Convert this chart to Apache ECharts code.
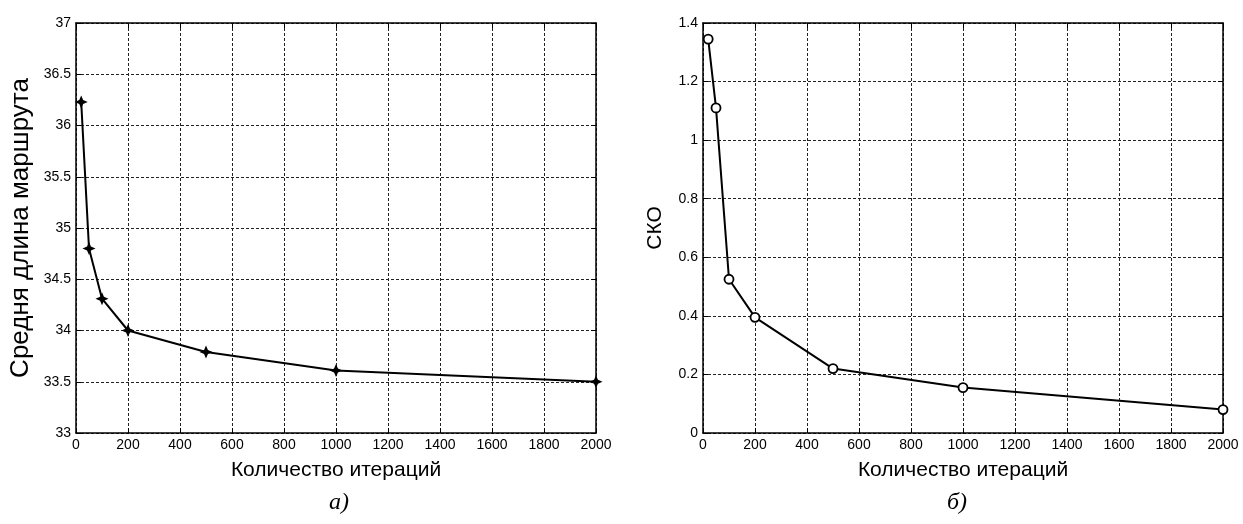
<!DOCTYPE html>
<html>
<head>
<meta charset="utf-8">
<script src="https://cdn.jsdelivr.net/npm/echarts@6/dist/echarts.min.js"></script>
<style>
  html, body { margin: 0; padding: 0; background: #fff; }
  #chart { width: 1243px; height: 524px; }
</style>
</head>
<body>
<div id="chart"></div>
<script>
// данные
var iterations = [20, 50, 100, 200, 500, 1000, 2000];
var meanLength = [36.23, 34.80, 34.31, 34.00, 33.79, 33.61, 33.50];
var stdDev = [1.345, 1.11, 0.525, 0.395, 0.22, 0.155, 0.08];

function pairs(xs, ys) {
    return xs.map(function (x, i) { return [x, ys[i]]; });
}

var FONT = '"Liberation Sans", Arial, sans-serif';
var star = 'path://M0,-6 L1.8,-1.8 L6,0 L1.8,1.8 L0,6 L-1.8,1.8 L-6,0 L-1.8,-1.8 Z';

function plain(v) { return String(v); }

function xAxisFor(grid, top) {
    return {
        type: 'value', gridIndex: grid, min: 0, max: 2000, interval: 200,
        position: top ? 'top' : 'bottom',
        name: top ? '' : 'Количество итераций',
        nameLocation: 'middle', nameGap: 27,
        nameTextStyle: { fontFamily: FONT, fontSize: 21, color: '#000' },
        axisLine: { onZero: false, lineStyle: { color: '#000', width: 1.5 } },
        axisTick: { inside: true, length: 5, lineStyle: { color: '#000' } },
        axisLabel: { show: !top, formatter: plain, fontFamily: FONT, fontSize: 14, color: '#000', margin: 5 },
        splitLine: { show: !top, lineStyle: { color: '#222', type: [3, 2], width: 1 } }
    };
}

function yAxisFor(grid, right, min, max, step, name, size, gap) {
    return {
        type: 'value', gridIndex: grid, min: min, max: max, interval: step,
        position: right ? 'right' : 'left',
        name: right ? '' : name,
        nameLocation: 'middle', nameGap: gap,
        nameTextStyle: { fontFamily: FONT, fontSize: size, color: '#000' },
        axisLine: { onZero: false, lineStyle: { color: '#000', width: 1.5 } },
        axisTick: { inside: true, length: 5, lineStyle: { color: '#000' } },
        axisLabel: { show: !right, formatter: plain, fontFamily: FONT, fontSize: 14, color: '#000', margin: 5 },
        splitLine: { show: !right, lineStyle: { color: '#222', type: [3, 2], width: 1 } }
    };
}

var chart = echarts.init(document.getElementById('chart'));
chart.setOption({
    animation: false,
    backgroundColor: '#fff',
    grid: [
        { left: 76, top: 23, width: 520, height: 410 },
        { left: 703, top: 23, width: 520, height: 410 }
    ],
    xAxis: [xAxisFor(0, false), xAxisFor(0, true), xAxisFor(1, false), xAxisFor(1, true)],
    yAxis: [
        yAxisFor(0, false, 33, 37, 0.5, 'Средня длина маршрута', 26, 42),
        yAxisFor(0, true, 33, 37, 0.5, '', 26, 42),
        yAxisFor(1, false, 0, 1.4, 0.2, 'СКО', 21, 37),
        yAxisFor(1, true, 0, 1.4, 0.2, '', 21, 37)
    ],
    series: [{
        type: 'line',
        xAxisIndex: 0, yAxisIndex: 0,
        data: pairs(iterations, meanLength),
        symbol: star, symbolSize: 13,
        itemStyle: { color: '#000' },
        lineStyle: { color: '#000', width: 2 }
    }, {
        type: 'line',
        xAxisIndex: 2, yAxisIndex: 2,
        data: pairs(iterations, stdDev),
        symbol: 'circle', symbolSize: 9,
        itemStyle: { color: '#fff', borderColor: '#000', borderWidth: 1.8 },
        lineStyle: { color: '#000', width: 2 }
    }],
    graphic: [
        { type: 'text', left: 329, top: 491,
          style: { text: 'а)', font: 'italic 24px "Liberation Serif", serif', fill: '#000' } },
        { type: 'text', left: 947, top: 491,
          style: { text: 'б)', font: 'italic 24px "Liberation Serif", serif', fill: '#000' } }
    ]
});
</script>
</body>
</html>
